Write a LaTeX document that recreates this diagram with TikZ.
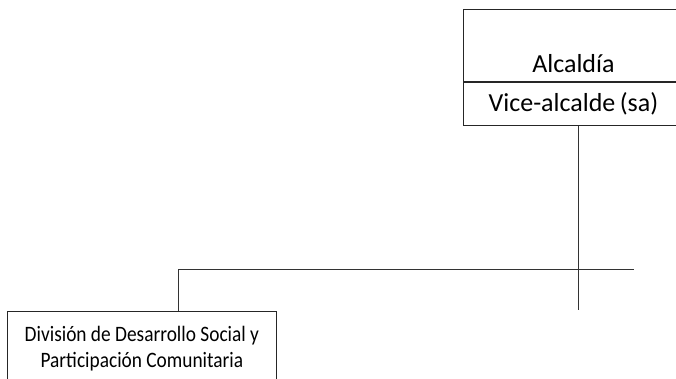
\documentclass[tikz,border=0pt]{standalone}
\usepackage{fontspec}
\setmainfont{Carlito}
\newfontfamily\estrecha[FakeStretch=0.88]{Carlito}
\usetikzlibrary{positioning}
\tikzset{%
	caja/.style={
		rectangle,
		draw=black!85,
		line width=0.8pt,
		inner sep=0pt
	},
	linea/.style={
		draw=black!80,
		line width=0.9pt
	},
}

\begin{document}
\begin{tikzpicture}[x=1pt,y=-1pt]
			\useasboundingbox (0,0) rectangle (676,379);
			\clip (0,0) rectangle (676,379);
			
			% Alcaldia box (top right)
			\node[caja, anchor=north west, minimum width=220pt, minimum height=72pt] (alcaldia) at (463,9) {};
			\node[anchor=base, font=\fontsize{26}{30}\selectfont] (txtalcaldia) at ([yshift=9pt]alcaldia.south) {Alcaldía};
			\node[caja, anchor=north, minimum width=220pt, minimum height=43pt, font=\fontsize{26}{30}\selectfont] (vice) at (alcaldia.south) {Vice-alcalde\,(sa)};
			
			% Division box (bottom left)
			\node[caja, anchor=north west, minimum width=269pt, minimum height=74pt, align=center, font=\estrecha\fontsize{22}{26}\selectfont] (division) at (7,311) {División de Desarrollo Social y\\Participación Comunitaria};
			
			% Connectors
			\coordinate (bajada) at (578,310);
			\coordinate (ramaizq) at (178,269);
			\coordinate (ramader) at (634,269);
			\draw[linea] (vice.south -| bajada) -- (bajada);
			\draw[linea] (ramaizq) -- (ramader);
			\draw[linea] (ramaizq) -- (ramaizq |- division.north);
			
		\end{tikzpicture}
\end{document}
